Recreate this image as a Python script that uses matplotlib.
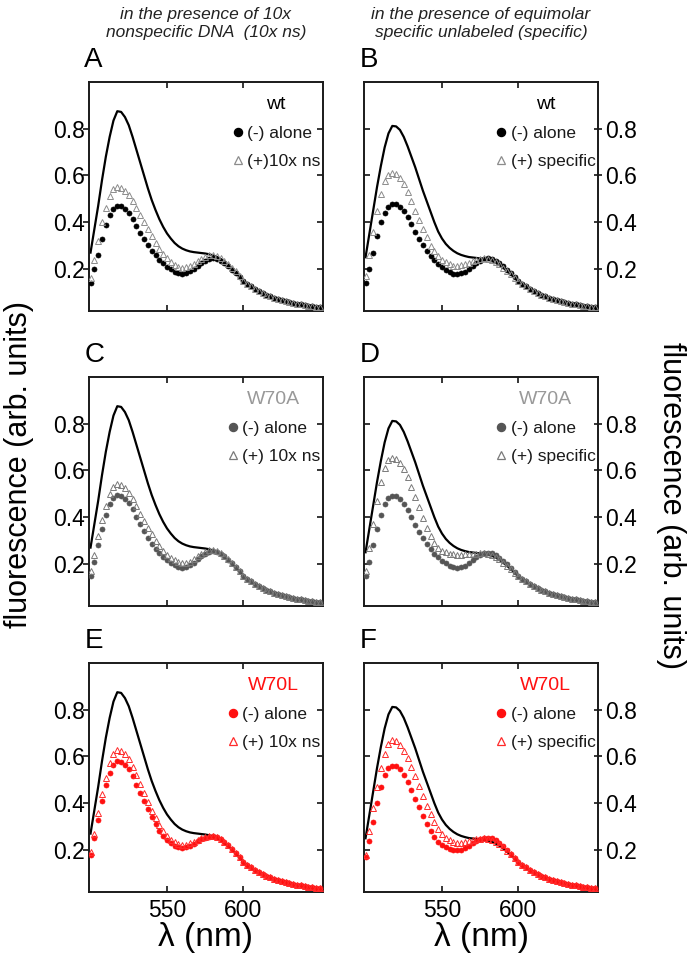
import numpy as np
import matplotlib
matplotlib.use("Agg")
import matplotlib.pyplot as plt
from matplotlib.lines import Line2D

plt.rcParams['font.family'] = ['Liberation Sans', 'DejaVu Sans']

# wavelength grid (nm): head part read per series, tail part shared
wl = np.arange(500, 650.1, 2.5)

# shared tail 600-650 nm (all curves merge there)
tail = [0.148, 0.136, 0.125, 0.115, 0.106, 0.098, 0.090, 0.083, 0.077, 0.072,
        0.067, 0.062, 0.058, 0.054, 0.051, 0.048, 0.045, 0.042, 0.040, 0.037,
        0.035]

# black reference lines, 500-597.5 nm
black_ns = [0.27, 0.37, 0.47, 0.58, 0.68, 0.765, 0.835, 0.875, 0.872, 0.85,
            0.815, 0.765, 0.71, 0.655, 0.60, 0.545, 0.495, 0.452, 0.413, 0.38,
            0.352, 0.33, 0.311, 0.297, 0.287, 0.28, 0.275, 0.272, 0.27, 0.268,
            0.266, 0.263, 0.258, 0.252, 0.243, 0.231, 0.217, 0.201, 0.184, 0.166]
black_sp = [0.25, 0.35, 0.45, 0.55, 0.64, 0.72, 0.78, 0.812, 0.81, 0.795,
            0.765, 0.725, 0.68, 0.635, 0.585, 0.535, 0.49, 0.445, 0.40, 0.36,
            0.33, 0.307, 0.29, 0.277, 0.267, 0.26, 0.255, 0.251, 0.249, 0.247,
            0.245, 0.243, 0.24, 0.235, 0.228, 0.218, 0.206, 0.192, 0.178, 0.163]

# panel A: wt, 10x nonspecific
a_alone = [0.14, 0.20, 0.26, 0.33, 0.39, 0.43, 0.455, 0.47, 0.468, 0.458,
           0.44, 0.415, 0.385, 0.355, 0.328, 0.302, 0.278, 0.258, 0.24, 0.224,
           0.21, 0.198, 0.188, 0.181, 0.179, 0.182, 0.19, 0.201, 0.213, 0.225,
           0.235, 0.242, 0.245, 0.243, 0.236, 0.225, 0.212, 0.197, 0.182, 0.165]
a_plus = [0.16, 0.24, 0.32, 0.40, 0.46, 0.51, 0.54, 0.552, 0.548, 0.535,
          0.515, 0.49, 0.46, 0.43, 0.40, 0.37, 0.34, 0.31, 0.285, 0.263,
          0.245, 0.23, 0.218, 0.21, 0.206, 0.207, 0.213, 0.222, 0.233, 0.244,
          0.253, 0.259, 0.261, 0.257, 0.248, 0.236, 0.222, 0.206, 0.19, 0.17]
# panel B: wt, specific
b_alone = [0.14, 0.20, 0.27, 0.34, 0.40, 0.44, 0.467, 0.48, 0.478, 0.467,
           0.448, 0.422, 0.392, 0.36, 0.33, 0.302, 0.277, 0.256, 0.238, 0.222,
           0.208, 0.196, 0.186, 0.18, 0.178, 0.181, 0.189, 0.20, 0.212, 0.224,
           0.234, 0.241, 0.245, 0.243, 0.236, 0.225, 0.212, 0.197, 0.182, 0.165]
b_plus = [0.17, 0.26, 0.36, 0.45, 0.52, 0.575, 0.603, 0.612, 0.605, 0.59,
          0.565, 0.53, 0.49, 0.45, 0.41, 0.37, 0.335, 0.30, 0.275, 0.255,
          0.24, 0.228, 0.219, 0.214, 0.213, 0.215, 0.22, 0.227, 0.234, 0.24,
          0.244, 0.245, 0.243, 0.238, 0.23, 0.219, 0.206, 0.192, 0.178, 0.162]
# panel C: W70A, 10x nonspecific
c_alone = [0.15, 0.21, 0.28, 0.35, 0.41, 0.455, 0.482, 0.495, 0.492, 0.48,
           0.46, 0.433, 0.402, 0.37, 0.34, 0.312, 0.287, 0.265, 0.246, 0.23,
           0.216, 0.204, 0.194, 0.187, 0.184, 0.186, 0.194, 0.206, 0.219, 0.232,
           0.243, 0.251, 0.255, 0.252, 0.244, 0.232, 0.218, 0.202, 0.186, 0.168]
c_plus = [0.17, 0.24, 0.32, 0.39, 0.45, 0.50, 0.53, 0.54, 0.537, 0.524,
          0.503, 0.477, 0.447, 0.415, 0.384, 0.354, 0.326, 0.30, 0.277, 0.257,
          0.24, 0.226, 0.215, 0.207, 0.203, 0.204, 0.21, 0.22, 0.232, 0.243,
          0.252, 0.258, 0.261, 0.257, 0.248, 0.236, 0.221, 0.205, 0.188, 0.17]
# panel D: W70A, specific
d_alone = [0.15, 0.21, 0.28, 0.35, 0.41, 0.455, 0.482, 0.492, 0.489, 0.477,
           0.457, 0.43, 0.40, 0.368, 0.338, 0.31, 0.285, 0.263, 0.244, 0.228,
           0.214, 0.202, 0.192, 0.186, 0.184, 0.186, 0.193, 0.204, 0.216, 0.228,
           0.238, 0.245, 0.248, 0.245, 0.237, 0.226, 0.213, 0.198, 0.182, 0.165]
d_plus = [0.17, 0.27, 0.37, 0.47, 0.55, 0.61, 0.645, 0.655, 0.65, 0.633,
          0.605, 0.57, 0.53, 0.487, 0.443, 0.398, 0.355, 0.318, 0.29, 0.27,
          0.257, 0.249, 0.244, 0.241, 0.24, 0.24, 0.241, 0.242, 0.243, 0.244,
          0.245, 0.245, 0.243, 0.238, 0.23, 0.219, 0.206, 0.192, 0.178, 0.163]
# panel E: W70L, 10x nonspecific
e_alone = [0.18, 0.25, 0.33, 0.41, 0.48, 0.53, 0.565, 0.58, 0.578, 0.565,
           0.545, 0.515, 0.48, 0.445, 0.41, 0.375, 0.34, 0.31, 0.283, 0.26,
           0.242, 0.228, 0.218, 0.212, 0.21, 0.212, 0.218, 0.227, 0.237, 0.246,
           0.253, 0.257, 0.258, 0.254, 0.246, 0.234, 0.22, 0.204, 0.187, 0.168]
e_plus = [0.19, 0.27, 0.36, 0.44, 0.51, 0.57, 0.61, 0.627, 0.624, 0.61,
          0.588, 0.556, 0.52, 0.482, 0.443, 0.405, 0.368, 0.335, 0.305, 0.28,
          0.26, 0.244, 0.232, 0.225, 0.222, 0.223, 0.228, 0.235, 0.243, 0.25,
          0.256, 0.259, 0.26, 0.256, 0.248, 0.236, 0.222, 0.206, 0.189, 0.17]
# panel F: W70L, specific
f_alone = [0.17, 0.24, 0.32, 0.40, 0.47, 0.52, 0.55, 0.561, 0.558, 0.545,
           0.522, 0.492, 0.458, 0.42, 0.383, 0.347, 0.312, 0.282, 0.256, 0.236,
           0.222, 0.211, 0.204, 0.20, 0.199, 0.201, 0.208, 0.218, 0.229, 0.239,
           0.246, 0.25, 0.252, 0.249, 0.241, 0.229, 0.215, 0.20, 0.184, 0.166]
f_plus = [0.18, 0.28, 0.38, 0.47, 0.55, 0.61, 0.655, 0.67, 0.666, 0.65,
          0.625, 0.592, 0.555, 0.515, 0.473, 0.432, 0.39, 0.352, 0.318, 0.29,
          0.268, 0.252, 0.241, 0.234, 0.231, 0.231, 0.233, 0.237, 0.241, 0.245,
          0.248, 0.249, 0.248, 0.244, 0.236, 0.225, 0.212, 0.197, 0.181, 0.164]

letters = ['A', 'B', 'C', 'D', 'E', 'F']
mutants = ['wt', 'wt', 'W70A', 'W70A', 'W70L', 'W70L']
alone_series = [a_alone, b_alone, c_alone, d_alone, e_alone, f_alone]
plus_series = [a_plus, b_plus, c_plus, d_plus, e_plus, f_plus]
black_series = [black_ns, black_sp, black_ns, black_sp, black_ns, black_sp]
plus_labels = ['(+)10x ns', '(+) specific', '(+) 10x ns', '(+) specific',
               '(+) 10x ns', '(+) specific']
headers = ['in the presence of 10x\nnonspecific DNA  (10x ns)',
           'in the presence of equimolar\nspecific unlabeled (specific)']

style = {
    'wt':   dict(alone='black', plus='#8c8c8c', title='black'),
    'W70A': dict(alone='#555555', plus='#7a7a7a', title='#999999'),
    'W70L': dict(alone='#ff1010', plus='#ff2a2a', title='#ff1010'),
}

W, H = 693, 963
fig = plt.figure(figsize=(W / 100, H / 100), dpi=100)

col_left = [89, 364]
row_top = [82, 377, 663]
ax_w, ax_h = 234, 229


def full(head):
    return np.concatenate([head, tail])


for i in range(6):
    r, c = divmod(i, 2)
    ax = fig.add_axes([col_left[c] / W, 1 - (row_top[r] + ax_h) / H, ax_w / W, ax_h / H])
    st = style[mutants[i]]

    ax.plot(wl, full(black_series[i]), color='black', lw=1.6, zorder=2)
    ax.plot(wl, full(alone_series[i]), 'o', ms=3.6, color=st['alone'],
            mec=st['alone'], mew=0.5, zorder=3)
    ax.plot(wl, full(plus_series[i]), '^', ms=3.9, mfc='none', mec=st['plus'],
            mew=0.7, zorder=4)

    ax.set_xlim(499, 652)
    ax.set_ylim(0.02, 1.0)
    ax.set_xticks([550, 600])
    ax.set_yticks([0.2, 0.4, 0.6, 0.8])
    ax.set_yticklabels(['0.2', '0.4', '0.6', '0.8'])
    for s in ax.spines.values():
        s.set_linewidth(1.4)
        s.set_color('#1a1a1a')

    ax.tick_params(axis='x', which='both', direction='in', top=True, bottom=True,
                   length=4, width=1.1, labelsize=16.5, labelbottom=(r == 2), pad=5)
    if c == 0:
        ax.tick_params(axis='y', left=True, right=True, labelleft=True, labelright=False,
                       direction='in', length=4, width=1.1, labelsize=16.5, pad=3)
        for t in ax.yaxis.get_ticklines()[0::2]:
            t.set_marker(matplotlib.markers.TICKLEFT)
    else:
        ax.tick_params(axis='y', left=True, right=True, labelleft=False, labelright=True,
                       direction='inout', length=6, width=1.1, labelsize=16.5, pad=2)
        for t in ax.yaxis.get_ticklines()[0::2]:
            t.set_marker(matplotlib.markers.TICKRIGHT)
            t.set_markersize(4)

    if r == 2:
        ax.set_xlabel('λ (nm)', fontsize=24, labelpad=0)

    handles = [Line2D([], [], ls='none', marker='o', ms=5.8, color=st['alone']),
               Line2D([], [], ls='none', marker='^', ms=6.3, mfc='none',
                      mec=st['plus'], mew=0.9)]
    leg = ax.legend(handles, ['(-) alone', plus_labels[i]], title=mutants[i],
                    loc='upper right', bbox_to_anchor=(1.02, 0.97), frameon=False,
                    fontsize=12.5, title_fontsize=14, handlelength=0.7,
                    handletextpad=0.2, labelspacing=0.75, borderaxespad=0)
    leg.get_title().set_color(st['title'])
    for txt in leg.get_texts():
        txt.set_color('#1a1a1a')

    ax.text(-0.02, 1.065, letters[i], transform=ax.transAxes, fontsize=20,
            ha='left', va='baseline')

for c in range(2):
    cx = (col_left[c] + ax_w / 2) / W
    fig.text(cx, 1 - 23 / H, headers[c], ha='center', va='center', fontsize=12.5,
             style='italic', color='#222222', linespacing=1.25)

fig.text(19 / W, 1 - 465 / H, 'fluorescence (arb. units)', rotation=90,
         ha='center', va='center', fontsize=22)
fig.text(671 / W, 1 - 505 / H, 'fluorescence (arb. units)', rotation=270,
         ha='center', va='center', fontsize=22)

fig.savefig('out.png', dpi=100)
